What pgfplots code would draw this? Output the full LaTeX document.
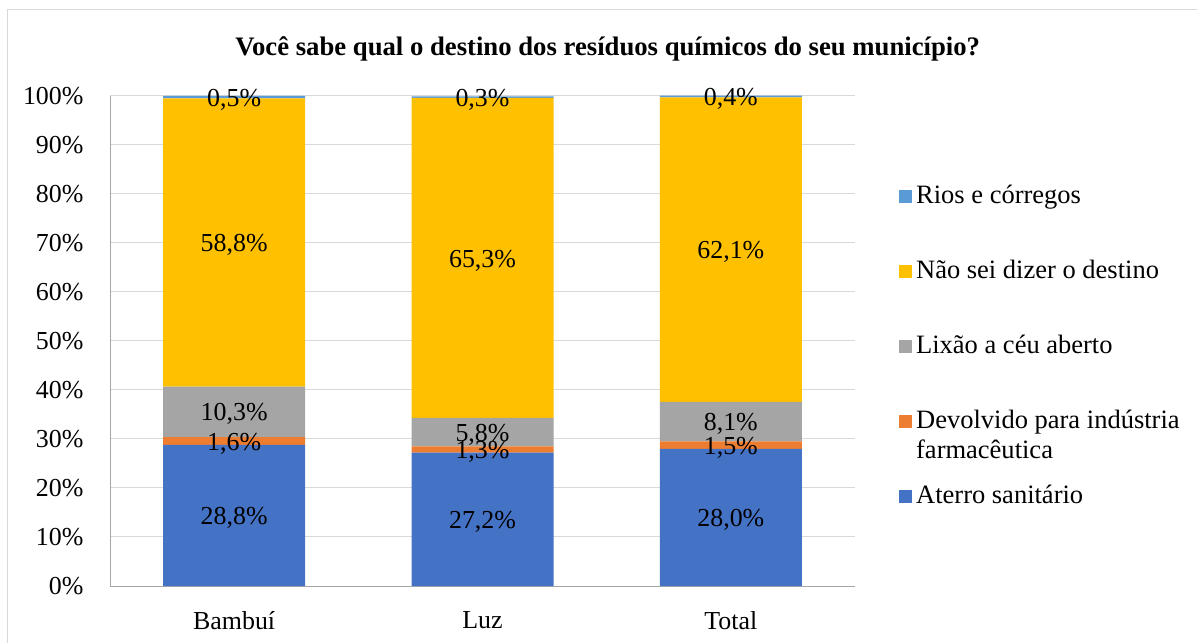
\documentclass[border=0pt]{standalone}
\usepackage{pgfplots}
\pgfplotsset{compat=1.18}
\usepackage{pgfplotstable}
\usepackage{fontspec}
\setmainfont{Liberation Serif}
\definecolor{cAterro}{HTML}{4472C4}
\definecolor{cDevol}{HTML}{ED7D31}
\definecolor{cLixao}{HTML}{A5A5A5}
\definecolor{cNaosei}{HTML}{FFC000}
\definecolor{cRios}{HTML}{5B9BD5}
\definecolor{gridc}{HTML}{D9D9D9}

\pgfplotstableread{
x y
0 28.8
1 27.2
2 28.0
}\aterro
\pgfplotstableread{
x y
0 1.6
1 1.3
2 1.5
}\devol
\pgfplotstableread{
x y
0 10.3
1 5.8
2 8.1
}\lixao
\pgfplotstableread{
x y
0 58.8
1 65.3
2 62.1
}\naosei
\pgfplotstableread{
x y
0 0.5
1 0.3
2 0.4
}\rios

\begin{document}
\begin{tikzpicture}
\useasboundingbox (0,0) rectangle (1197bp,643bp);
\draw[gridc, line width=1bp] (7bp,0) -- (7bp,633bp) -- (1197bp,633bp);
\begin{axis}[
  at={(110bp,57bp)}, anchor=south west,
  scale only axis,
  width=745bp, height=490bp,
  ybar stacked,
  bar width=142bp,
  xmin=-0.5, xmax=2.5,
  ymin=0, ymax=100,
  clip=false,
  xtick={0,1,2},
  xticklabels={Bambuí,Luz,Total},
  ytick={0,10,...,100},
  yticklabels={0\%,10\%,20\%,30\%,40\%,50\%,60\%,70\%,80\%,90\%,100\%},
  major tick length=0pt,
  ymajorgrids,
  grid style={gridc, line width=1bp},
  axis x line*=bottom,
  axis y line*=left,
  axis line style={draw=black!35, line width=1bp},
  x axis line style={-}, y axis line style={-},
  tick label style={font=\fontsize{26}{30}\selectfont},
  xticklabel style={yshift=-22bp},
  yticklabel style={xshift=-23bp},
  title={Você sabe qual o destino dos resíduos químicos do seu município?},
  title style={font=\bfseries\fontsize{26.8}{30}\selectfont, at={(axis description cs:0.668,1.084)}, anchor=center},
  point meta=explicit,
  nodes near coords={\pgfmathprintnumber[fixed,precision=1,fixed zerofill,use comma]{\pgfplotspointmeta}\%},
  every node near coord/.append style={font=\fontsize{26}{30}\selectfont, anchor=center, inner sep=0pt, yshift=-2.5bp, black},
  /pgf/number format/assume math mode=true,
  legend cell align=left,
  reverse legend,
  legend image code/.code={\fill[#1, draw=none] (0bp,-6.5bp) rectangle (13bp,6.5bp);},
  legend style={draw=none, fill=none, at={(axis description cs:1.059,0.82)}, anchor=north west,
    font=\fontsize{26.6}{30}\selectfont, row sep=50bp, column sep=0bp, inner sep=0pt,
    nodes={text height=19bp, text depth=6bp, inner ysep=0pt, inner xsep=4bp}},
]
\addplot[fill=cAterro, draw=none] table[x=x, y=y, meta=y] {\aterro};
\addlegendentry{Aterro sanitário}
\addplot[fill=cDevol, draw=none] table[x=x, y=y, meta=y] {\devol};
\addlegendentry{\vtop{\hbox{Devolvido para indústria}\hbox{farmacêutica}}}
\addplot[fill=cLixao, draw=none] table[x=x, y=y, meta=y] {\lixao};
\addlegendentry{Lixão a céu aberto}
\addplot[fill=cNaosei, draw=none] table[x=x, y=y, meta=y] {\naosei};
\addlegendentry{Não sei dizer o destino}
\addplot[fill=cRios, draw=none] table[x=x, y=y, meta=y] {\rios};
\addlegendentry{Rios e córregos}
\end{axis}
\end{tikzpicture}
\end{document}
